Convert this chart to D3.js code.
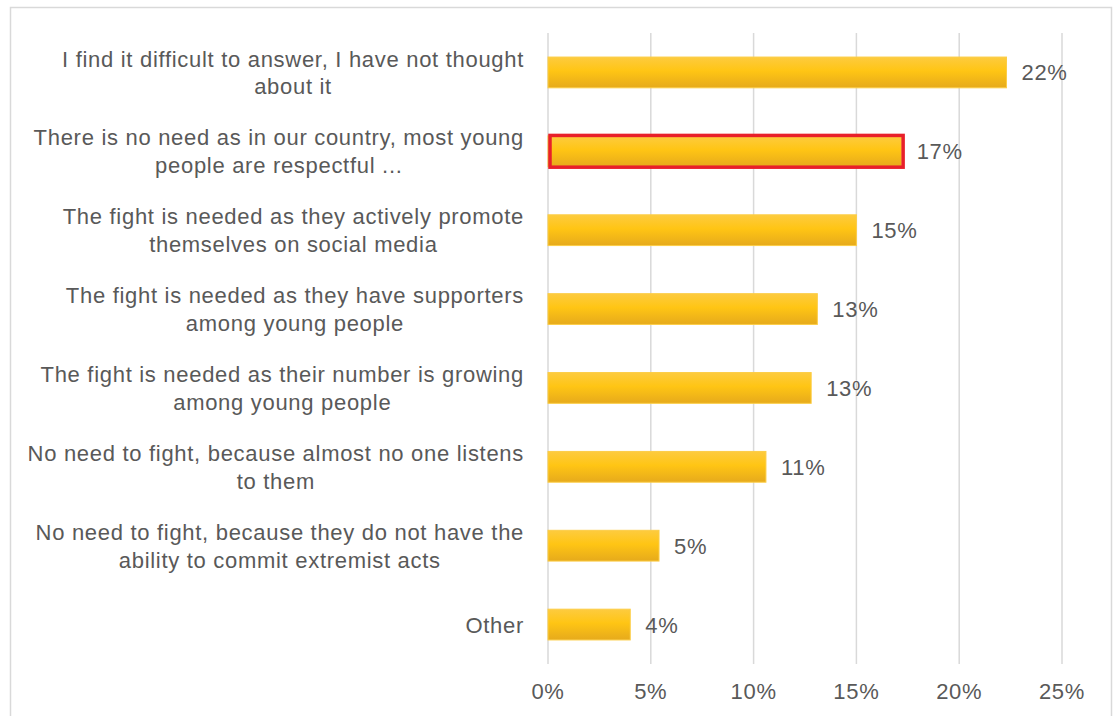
<!DOCTYPE html>
<html>
<head>
<meta charset="utf-8">
<script src="https://cdn.jsdelivr.net/npm/d3@7"></script>
<style>
  body { margin: 0; background: #fff; }
  text { font-family: "Liberation Sans", Arial, sans-serif; fill: #595959; }
</style>
</head>
<body>
<div id="chart-area"></div>
<script>
// answers, top to bottom (label lines as wrapped in the original)
const categories = [
  ['I find it difficult to answer, I have not thought', 'about it'],
  ['There is no need as in our country, most young', 'people are respectful ...'],
  ['The fight is needed as they actively promote', 'themselves on social media'],
  ['The fight is needed as they have supporters', 'among young people'],
  ['The fight is needed as their number is growing', 'among young people'],
  ['No need to fight, because almost no one listens', 'to them'],
  ['No need to fight, because they do not have the', 'ability to commit extremist acts'],
  ['Other']
];
const values = [22.3, 17.2, 15.0, 13.1, 12.8, 10.6, 5.4, 4.0];
const valueLabels = ['22%', '17%', '15%', '13%', '13%', '11%', '5%', '4%'];
const ticks = [0, 5, 10, 15, 20, 25];
const highlighted = 1;

const width = 1115, height = 716;
const svg = d3.select('#chart-area').append('svg')
  .attr('width', width)
  .attr('height', height);

const defs = svg.append('defs');
const grad = defs.append('linearGradient')
  .attr('id', 'barGrad')
  .attr('x1', 0).attr('y1', 0).attr('x2', 0).attr('y2', 1);
grad.append('stop').attr('offset', '0%').attr('stop-color', '#fdcb3f');
grad.append('stop').attr('offset', '45%').attr('stop-color', '#ffc514');
grad.append('stop').attr('offset', '100%').attr('stop-color', '#e6aa1c');

// outer frame
svg.append('rect')
  .attr('x', 10.5).attr('y', 7.5)
  .attr('width', 1101).attr('height', 720)
  .attr('fill', 'none')
  .attr('stroke', '#d9d9d9')
  .attr('stroke-width', 1.5);

const x = d3.scaleLinear().domain([0, 25]).range([548, 1062]);
const y = d3.scaleBand()
  .domain(d3.range(categories.length))
  .range([33, 664])
  .paddingInner(0.61)
  .paddingOuter(0.305);

// gridlines
svg.append('g').selectAll('line')
  .data(ticks)
  .enter()
  .append('line')
  .attr('x1', d => x(d)).attr('x2', d => x(d))
  .attr('y1', 33).attr('y2', 664)
  .attr('stroke', '#d9d9d9')
  .attr('stroke-width', 1.5);

// tick labels
svg.append('g').selectAll('text')
  .data(ticks)
  .enter()
  .append('text')
  .attr('x', d => x(d))
  .attr('y', 699)
  .attr('text-anchor', 'middle')
  .attr('font-size', '22px')
  .attr('letter-spacing', '0.7px')
  .text(d => d + '%');

// bars
svg.append('g').selectAll('rect')
  .data(values)
  .enter()
  .append('rect')
  .attr('x', x(0))
  .attr('y', (d, i) => y(i))
  .attr('width', d => x(d) - x(0))
  .attr('height', y.bandwidth())
  .attr('fill', 'url(#barGrad)')
  .attr('stroke', '#fccd45')
  .attr('stroke-width', 1);

// red highlight around one bar
svg.append('rect')
  .attr('x', x(0) + 2)
  .attr('y', y(highlighted) - 0.5)
  .attr('width', x(values[highlighted]) - x(0) - 0.5)
  .attr('height', y.bandwidth() + 1)
  .attr('fill', 'none')
  .attr('stroke', '#e8202a')
  .attr('stroke-width', 3.5);

// value labels
svg.append('g').selectAll('text')
  .data(values)
  .enter()
  .append('text')
  .attr('x', d => x(d) + 15)
  .attr('y', (d, i) => y(i) + y.bandwidth() / 2 + 8)
  .attr('font-size', '22px')
  .attr('letter-spacing', '0.7px')
  .text((d, i) => valueLabels[i]);

// category labels: block right aligned, lines centred inside it
const lineH = 27.7;
const labels = svg.append('g').selectAll('text')
  .data(categories)
  .enter()
  .append('text')
  .attr('font-size', '22px')
  .attr('letter-spacing', '0.7px')
  .attr('text-anchor', 'middle');

labels.each(function(lines, i) {
  const t = d3.select(this);
  const cy = y(i) + y.bandwidth() / 2;
  const first = cy + 8 - (lines.length - 1) * lineH / 2;
  lines.forEach((line, j) => {
    t.append('tspan').attr('y', first + j * lineH).text(line);
  });
  let maxW = 0;
  t.selectAll('tspan').each(function() {
    maxW = Math.max(maxW, this.getComputedTextLength());
  });
  t.selectAll('tspan').attr('x', 524 - maxW / 2);
});
</script>
</body>
</html>
